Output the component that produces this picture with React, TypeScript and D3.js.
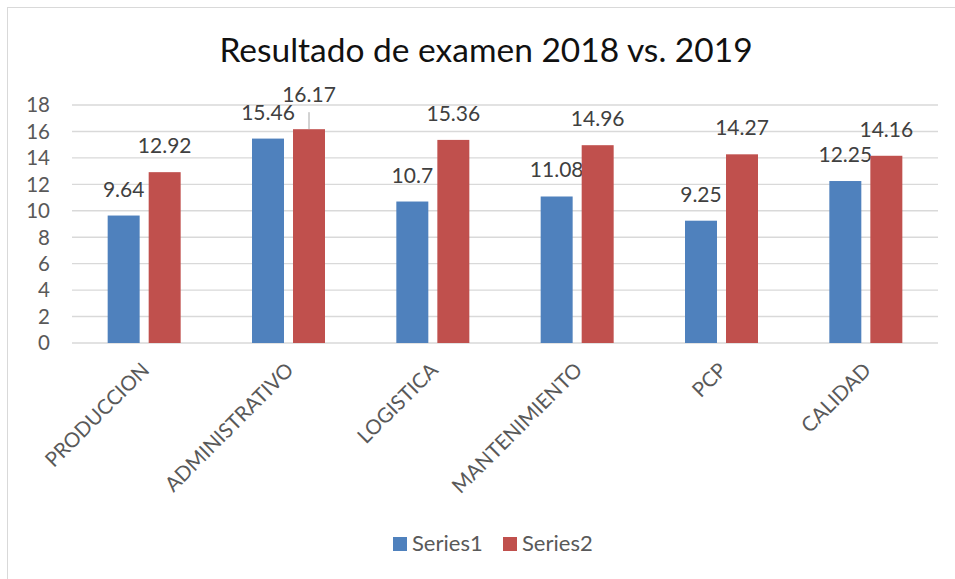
import React from "react";
import * as d3 from "d3";

const categories = ["PRODUCCION", "ADMINISTRATIVO", "LOGISTICA", "MANTENIMIENTO", "PCP", "CALIDAD"];
const series1 = [9.64, 15.46, 10.7, 11.08, 9.25, 12.25];
const series2 = [12.92, 16.17, 15.36, 14.96, 14.27, 14.16];
const seriesNames = ["Series1", "Series2"];
const yTicks = [0, 2, 4, 6, 8, 10, 12, 14, 16, 18];
const title = "Resultado de examen 2018 vs. 2019";

const colors = ["#4f81bd", "#c0504d"];
const FONT = "Lato, 'Open Sans', sans-serif";

export default function App() {
  const W = 955, H = 579;
  const left = 72, right = 938, top = 105, bottom = 343;
  const y = d3.scaleLinear().domain([0, 18]).range([bottom, top]);
  const x0 = d3.scaleBand<string>().domain(categories).range([left, right]);
  const groupW = 73;
  const x1 = d3.scaleBand<number>().domain([0, 1]).range([0, groupW]).paddingInner(0.22);
  const all = [series1, series2];
  // label lift for overlapping label (series index, category index, px)
  const lifted = { s: 1, i: 1, lift: 8 };

  return (
    <svg width={W} height={H} style={{ position: "absolute", left: 0, top: 0, background: "#fff" }} fontFamily={FONT}>
      <rect x={0} y={0} width={W} height={H} fill="#fff" />
      <line x1={7.5} y1={7} x2={7.5} y2={H} stroke="#d9d9d9" strokeWidth={1} />
      <line x1={7.5} y1={7.5} x2={W} y2={7.5} stroke="#d9d9d9" strokeWidth={1} />
      <text x={486} y={62} textAnchor="middle" fontSize={33.5} fill="#111">{title}</text>
      {yTicks.map((t) => (
        <g key={t}>
          <line x1={left} x2={right} y1={y(t)} y2={y(t)} stroke="#d9d9d9" strokeWidth={1.4} />
          <text x={50} y={y(t)} dy="0.36em" textAnchor="end" fontSize={20.5} fill="#595959">{t}</text>
        </g>
      ))}
      {categories.map((c, i) => {
        const gx = (x0(c) as number) + (x0.bandwidth() - groupW) / 2;
        return (
          <g key={c}>
            {all.map((s, si) => {
              const bx = gx + (x1(si) as number);
              const bw = x1.bandwidth();
              const cx = bx + bw / 2;
              const isLift = lifted.s === si && lifted.i === i;
              const ly = y(s[i]) - 19 - (isLift ? lifted.lift : 0);
              return (
                <g key={si}>
                  <rect x={bx} y={y(s[i])} width={bw} height={bottom - y(s[i])} fill={colors[si]} />
                  {isLift && (
                    <line x1={cx} x2={cx} y1={ly + 10} y2={y(s[i])} stroke="#a6a6a6" strokeWidth={1} />
                  )}
                  <text x={cx} y={ly} textAnchor="middle" fontSize={21} fill="#404040">{s[i]}</text>
                </g>
              );
            })}
            <text
              transform={`translate(${(x0(c) as number) + x0.bandwidth() / 2 - 4},${361}) rotate(-45)`}
              dy="0.72em"
              textAnchor="end"
              fontSize={20.5}
              fill="#595959"
            >
              {c}
            </text>
          </g>
        );
      })}
      {seriesNames.map((n, i) => {
        const lx = [393, 503][i];
        return (
          <g key={n}>
            <rect x={lx} y={537} width={14} height={14} fill={colors[i]} />
            <text x={lx + 19} y={551} fontSize={22} fill="#595959">{n}</text>
          </g>
        );
      })}
    </svg>
  );
}
